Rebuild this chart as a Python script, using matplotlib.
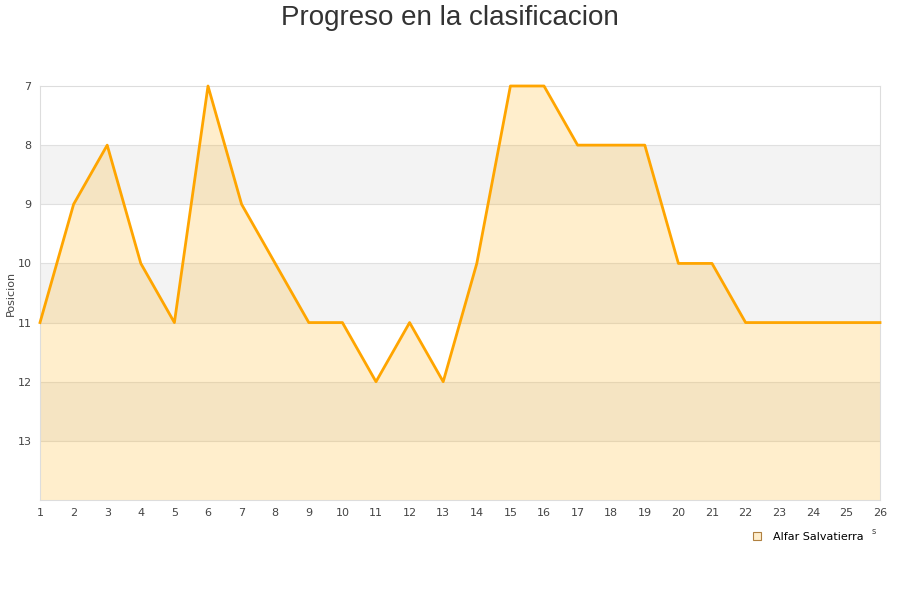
import matplotlib
matplotlib.use("Agg")
import matplotlib.pyplot as plt
from matplotlib.lines import Line2D

jornadas = list(range(1, 27))
posiciones = [11, 9, 8, 10, 11, 7, 9, 10, 11, 11, 12, 11, 12, 10, 7, 7, 8, 8, 8, 10, 10, 11, 11, 11, 11, 11]
equipo = "Alfar Salvatierra"
y_ticks = [7, 8, 9, 10, 11, 12, 13]

fig = plt.figure(figsize=(9, 6), dpi=100)
ax = fig.add_axes([40/900, 100/600, 840/900, 414/600])

ax.set_xlim(1, 26)
ax.set_ylim(14, 7)

# alternating bands
for lo in (8, 10, 12):
    ax.axhspan(lo, lo + 1, color="#f3f3f3", zorder=0, lw=0)
for y in range(8, 14):
    ax.axhline(y, color="#e0e0e0", lw=0.8, zorder=1)

ax.fill_between(jornadas, posiciones, 14, color="#ffaa00", alpha=0.2, lw=0, zorder=2)
ax.plot(jornadas, posiciones, color="#ffa500", lw=2, zorder=3, clip_on=False)

ax.set_xticks(jornadas)
ax.set_yticks(y_ticks)
ax.tick_params(length=0, labelsize=8, colors="#444444", pad=6)
for s in ax.spines.values():
    s.set_color("#dddddd")
    s.set_linewidth(0.8)
ax.set_ylabel("Posicion", fontsize=8, color="#444444")
ax.yaxis.set_label_coords(-24/840, 0.5)

fig.text(0.5, 0.992, "Progreso en la clasificacion", ha="center", va="top",
         fontsize=20, color="#333333", family="Liberation Sans")

handle = Line2D([], [], marker="s", linestyle="none", markersize=6,
                markerfacecolor="#ffeecc", markeredgecolor="#b08040", markeredgewidth=0.8)
leg = fig.legend([handle], [equipo], loc="center", bbox_to_anchor=(805/900, 1 - 537/600),
                 frameon=False, fontsize=8, handletextpad=0.4, borderpad=0)
fig.text(874/900, 1 - 532/600, "s", fontsize=6, color="#444444", ha="center", va="center")

fig.savefig("out.png", dpi=100)
